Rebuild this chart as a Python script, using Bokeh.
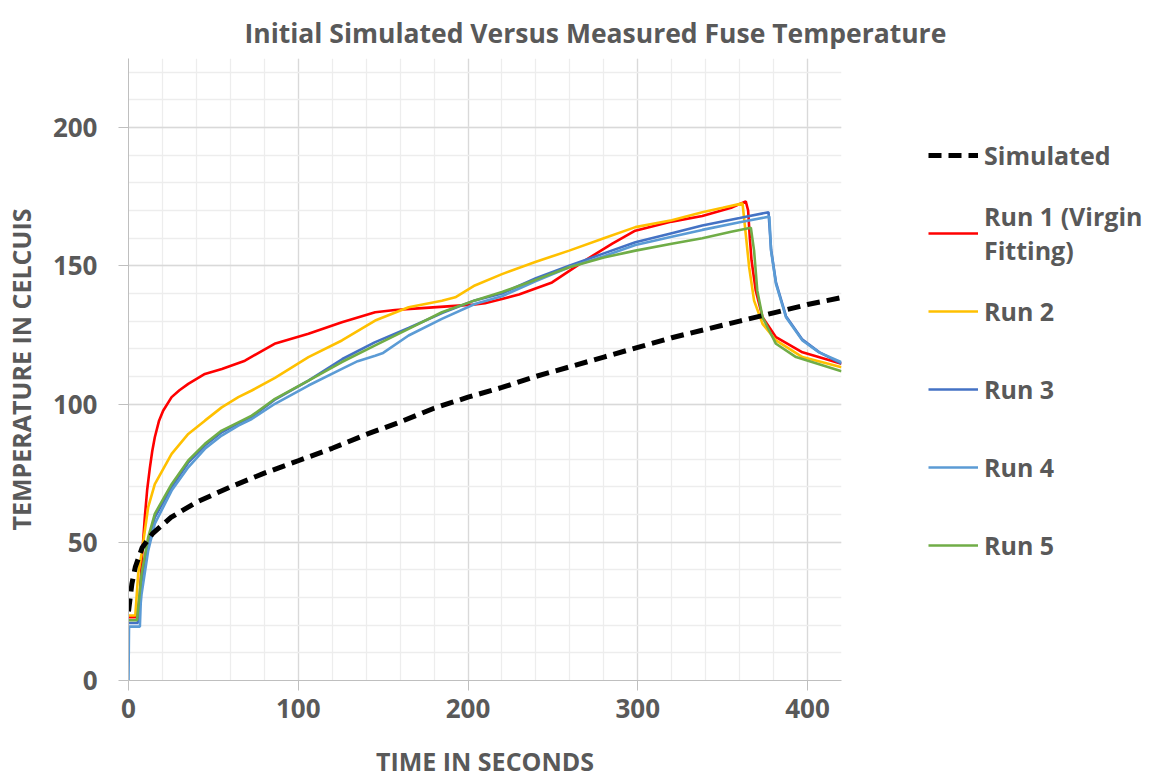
from bokeh.plotting import figure
from bokeh.models import Legend, LegendItem, SingleIntervalTicker, Range1d
from bokeh.embed import file_html
from bokeh.resources import INLINE

# ---------------- data ----------------
sim_t = [0, 2, 4, 8, 14, 25, 40, 60, 80, 100, 120, 140, 160, 180, 200, 220,
         240, 260, 280, 300, 320, 340, 360, 380, 400, 420]
sim_T = [25, 35, 41, 48, 53, 59, 64.5, 70, 75, 79.5, 84, 89, 93.5, 98.5, 102.5,
         106, 110, 113.5, 117, 120.5, 124, 127, 130, 133, 136, 138.5]

run1_t = [0, 5, 6.7, 8, 9.6, 11, 12.6, 14, 15.5, 18, 20.4, 25.4, 30, 35.2, 45, 55,
          68.6, 86, 106, 125.7, 145.3, 157, 175, 194.5, 204, 210, 220, 230, 249.5,
          269, 285, 298.5, 320, 338, 355, 363.6, 365, 366, 367, 369.5, 373.5,
          381.4, 397, 420]
run1_T = [22.9, 22.9, 31, 45, 59, 69, 77, 83, 88, 94, 97.6, 102.5, 105, 107.3,
          110.9, 112.7, 115.7, 121.8, 125.4, 129.6, 133.2, 134, 134.8, 135.6, 136,
          136.5, 138, 139.6, 144, 152, 158, 162.7, 166, 168, 171, 173.3, 170, 160,
          152, 141, 131.4, 124.2, 118.7, 114.6]

run2_t = [0, 4, 5.7, 7.7, 11.6, 15.5, 25.4, 35.2, 45, 54.9, 64.7, 72.6, 86.3, 106,
          125.7, 145.3, 165, 184.6, 192.5, 204, 220, 240, 259.6, 280, 298.6, 320,
          338, 350, 361.7, 363.6, 365.6, 368.5, 373.5, 381.4, 397, 420]
run2_T = [23.5, 23.5, 38.6, 45.8, 62.7, 71, 82, 89.2, 94, 98.8, 102.5, 104.9,
          109.5, 117, 123, 130.2, 135, 137.4, 138.6, 142.9, 147, 151.5, 155.5, 160,
          164, 166.5, 169.4, 171, 172.6, 161.5, 149.5, 137.4, 129, 123, 117, 113.3]

run3_t = [0, 5.5, 6.5, 7.7, 11.6, 15.5, 25.4, 35.2, 45, 54.9, 64.7, 72.6, 86,
          106, 126, 145, 165, 185, 204, 220, 240, 259.6, 280, 298.6, 320, 338,
          360, 377, 378.5, 381.4, 387.3, 397, 406.8, 420]
run3_T = [20.8, 20.8, 28, 36, 50, 59, 70, 78.8, 85, 89.8, 93, 95.3, 101.5, 108.5,
          116.3, 122.3, 127.5, 133, 137.5, 140, 145.5, 150, 154.5, 158.5, 161.8,
          164.6, 167.3, 169.4, 156, 144, 131.8, 123.3, 118.8, 114.6]

run4_t = [0, 0.3, 6.7, 7.2, 7.7, 11.6, 15.5, 25.4, 35.2, 45, 54.9, 64.7, 72.6,
          86.3, 106, 125.7, 135, 145.3, 150, 165, 184.6, 204, 220, 240, 259.6, 280,
          298.6, 320, 338, 360, 377.5, 378.5, 381.4, 387.3, 397, 406.8, 420]
run4_T = [0, 19.5, 19.5, 28, 31.3, 47, 56.7, 68.7, 77.1, 83.8, 88.6, 92.2, 94.6,
          100.1, 106.7, 112.7, 115.5, 117.5, 118.5, 124.8, 130.8, 136.2, 139, 144.5,
          149.5, 153.5, 157.5, 160.5, 163, 165.8, 167.8, 155.5, 143.5, 131.4, 123,
          118.7, 115.1]

run5_t = [0, 5, 6, 7.7, 11.6, 15.5, 25.4, 35.2, 45, 54.9, 64.7, 72.6, 86.3, 106,
          125.7, 145.3, 165, 184.6, 204, 220, 240, 259.6, 280, 298.6, 320, 338,
          355, 366.6, 368.5, 370.4, 373.5, 381.4, 393.2, 420]
run5_T = [21.8, 21.8, 28, 38.6, 51.8, 60.3, 71, 79.6, 85.6, 90.4, 93.4, 95.8,
          101.9, 108.5, 115.2, 121.2, 127.2, 133.2, 137.5, 140.5, 145, 149.5, 153,
          155.5, 158, 160, 162.3, 163.8, 155.5, 141, 131.4, 121.8, 117, 111.9]

labels = ["Simulated", "Run 1 (Virgin\nFitting)", "Run 2", "Run 3", "Run 4", "Run 5"]
colors = ["#000000", "#FF0000", "#FFC000", "#4472C4", "#5B9BD5", "#70AD47"]

x_major = 100
y_major = 50
title_text = "Initial Simulated Versus Measured Fuse Temperature"
x_label = "TIME IN SECONDS"
y_label = "TEMPERATURE IN CELCUIS"

# ---------------- figure ----------------
GRAY = "#595959"
FONT = "Open Sans"

p = figure(frame_width=713, frame_height=622, output_backend="svg",
           toolbar_location=None,
           x_range=Range1d(0, 420), y_range=Range1d(0, 225),
           min_border_left=127, min_border_right=0, min_border_top=58,
           min_border_bottom=96, title=title_text)
p.outline_line_color = None
p.background_fill_color = "white"
p.border_fill_color = "white"

p.title.text_font = FONT
p.title.text_font_size = "26.5px"
p.title.text_font_style = "bold"
p.title.text_color = GRAY
p.title.align = "left"
p.title.offset = 116
p.title.standoff = 15

p.xaxis.ticker = SingleIntervalTicker(interval=x_major, num_minor_ticks=5)
p.yaxis.ticker = SingleIntervalTicker(interval=y_major, num_minor_ticks=5)

for ax in (p.xaxis[0], p.yaxis[0]):
    ax.axis_line_color = "#BFBFBF"
    ax.axis_line_width = 1
    ax.major_tick_line_color = "#BFBFBF"
    ax.major_tick_out = 10
    ax.major_tick_in = 0
    ax.minor_tick_line_color = None
    ax.major_label_text_font = FONT
    ax.major_label_text_font_size = "26px"
    ax.major_label_text_font_style = "bold"
    ax.major_label_text_color = GRAY
    ax.axis_label_text_font = FONT
    ax.axis_label_text_font_size = "25px"
    ax.axis_label_text_font_style = "bold"
    ax.axis_label_text_color = GRAY

p.xaxis.axis_label = x_label
p.yaxis.axis_label = y_label
p.xaxis.major_label_standoff = 8
p.xaxis.axis_label_standoff = 23
p.yaxis.major_label_standoff = 21
p.yaxis.axis_label_standoff = 12

for g in (p.xgrid[0], p.ygrid[0]):
    g.grid_line_color = "#D9D9D9"
    g.grid_line_width = 1.3
    g.minor_grid_line_color = "#EDEDED"
    g.minor_grid_line_width = 1.3

r1 = p.line(run1_t, run1_T, line_color=colors[1], line_width=2.6)
r2 = p.line(run2_t, run2_T, line_color=colors[2], line_width=2.6)
r3 = p.line(run3_t, run3_T, line_color=colors[3], line_width=2.6)
r4 = p.line(run4_t, run4_T, line_color=colors[4], line_width=2.6)
r5 = p.line(run5_t, run5_T, line_color=colors[5], line_width=2.6)
rs = p.line(sim_t, sim_T, line_color=colors[0], line_width=5, line_dash="13 7")

renderers = [rs, r1, r2, r3, r4, r5]
items = [LegendItem(label=l, renderers=[r]) for l, r in zip(labels, renderers)]
legend = Legend(items=items, location=(87, 101), padding=0, margin=0,
                border_line_color=None, background_fill_alpha=0,
                glyph_width=50, glyph_height=20, label_standoff=6,
                label_height=68, spacing=10,
                label_text_font=FONT, label_text_font_size="25px",
                label_text_font_style="bold", label_text_color=GRAY,
                label_text_line_height=1.05)
p.add_layout(legend, "right")

open("out.html", "w").write(file_html(p, INLINE))
